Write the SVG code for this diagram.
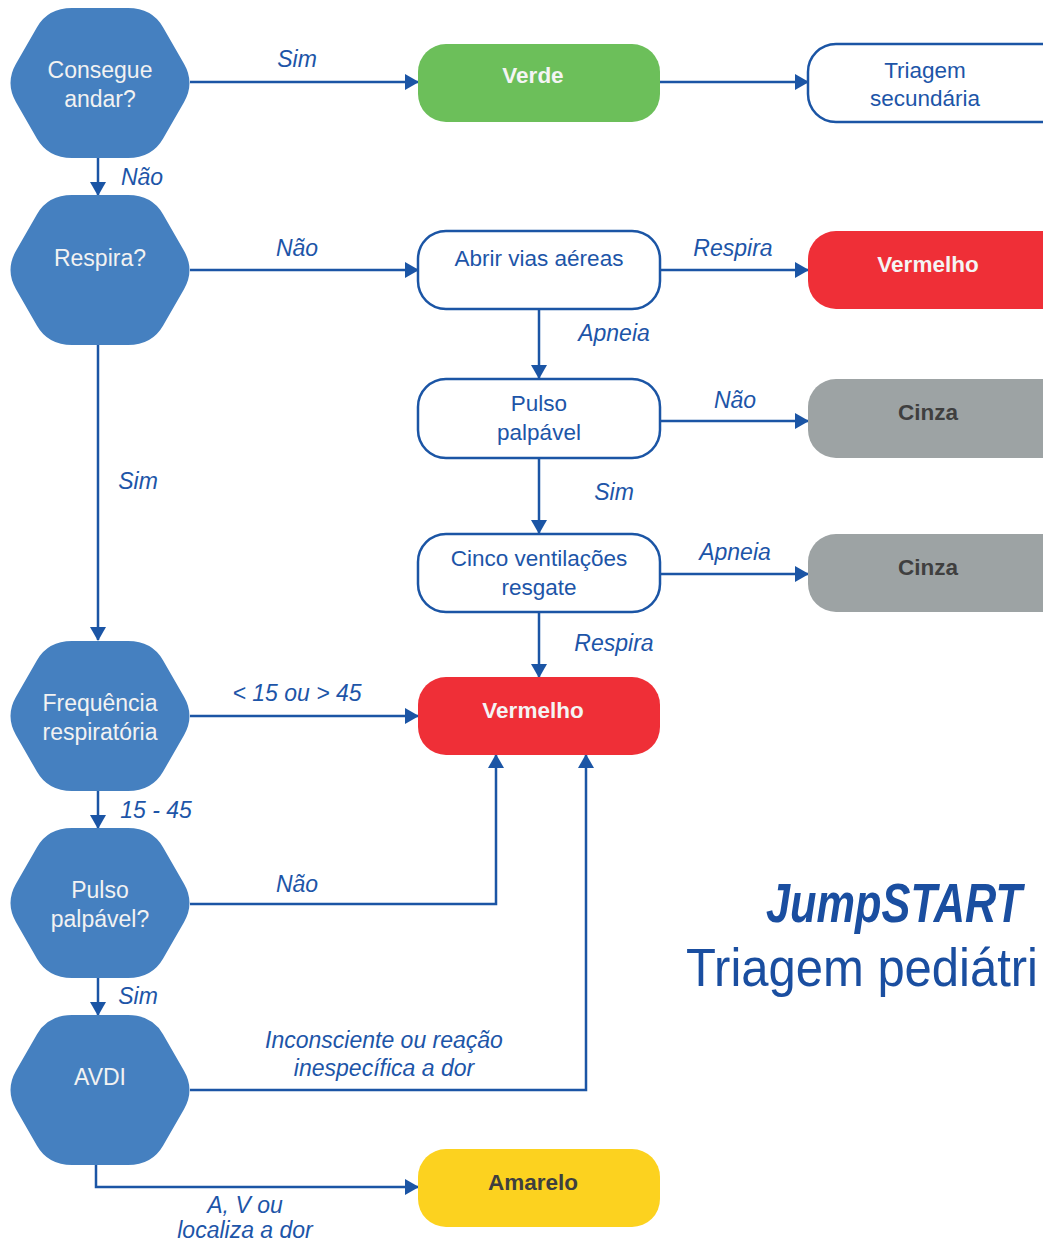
<svg xmlns="http://www.w3.org/2000/svg" width="1043" height="1242" viewBox="0 0 1043 1242">
<defs>
<style>
.hex{fill:#4580c0}
.ht{fill:#f2f2f2;font-family:"Liberation Sans",Arial,sans-serif;font-size:23px;text-anchor:middle}
.ob{fill:#fff;stroke:#1b55a5;stroke-width:2.5}
.ot{fill:#1d55a8;font-family:"Liberation Sans",Arial,sans-serif;font-size:22.5px;text-anchor:middle}
.bt{font-family:"Liberation Sans",Arial,sans-serif;font-size:22.5px;font-weight:bold;text-anchor:middle}
.w{fill:#f4f4f4}
.d{fill:#3f3f3f}
.lbl{fill:#1d55a8;font-family:"Liberation Sans",Arial,sans-serif;font-size:23px;font-style:italic;text-anchor:middle}
.ln{fill:none;stroke:#1b55a5;stroke-width:2.5}
</style>
<marker id="ah" markerUnits="userSpaceOnUse" markerWidth="14" markerHeight="16" viewBox="0 0 14 16" refX="13" refY="8" orient="auto">
<path d="M0,0 L14,8 L0,16 Z" fill="#1b55a5"/>
</marker>
<path id="hx" d="M -84,-19.2 L -63,-55.8 Q -52,-75 -28,-75 L 28,-75 Q 52,-75 63,-55.8 L 84,-19.2 Q 95,0 84,19.2 L 63,55.8 Q 52,75 28,75 L -28,75 Q -52,75 -63,55.8 L -84,19.2 Q -95,0 -84,-19.2 Z"/>
</defs>
<rect width="1043" height="1242" fill="#fff"/>

<g id="connectors">
<path class="ln" d="M190,82 H418" marker-end="url(#ah)"/>
<path class="ln" d="M660,82 H808" marker-end="url(#ah)"/>
<path class="ln" d="M98,158 V195" marker-end="url(#ah)"/>
<path class="ln" d="M190,270 H418" marker-end="url(#ah)"/>
<path class="ln" d="M660,270 H808" marker-end="url(#ah)"/>
<path class="ln" d="M539,309 V378" marker-end="url(#ah)"/>
<path class="ln" d="M660,421 H808" marker-end="url(#ah)"/>
<path class="ln" d="M539,458 V533" marker-end="url(#ah)"/>
<path class="ln" d="M660,574 H808" marker-end="url(#ah)"/>
<path class="ln" d="M539,612 V677" marker-end="url(#ah)"/>
<path class="ln" d="M98,345 V640" marker-end="url(#ah)"/>
<path class="ln" d="M190,716 H418" marker-end="url(#ah)"/>
<path class="ln" d="M98,791 V828" marker-end="url(#ah)"/>
<path class="ln" d="M190,904 H496 V755" marker-end="url(#ah)"/>
<path class="ln" d="M98,978 V1015" marker-end="url(#ah)"/>
<path class="ln" d="M190,1090 H586 V755" marker-end="url(#ah)"/>
<path class="ln" d="M96,1165 V1187 H418" marker-end="url(#ah)"/>

<text class="lbl" x="297" y="67">Sim</text>
<text class="lbl" x="142" y="185">Não</text>
<text class="lbl" x="297" y="256">Não</text>
<text class="lbl" x="733" y="256">Respira</text>
<text class="lbl" x="614" y="341">Apneia</text>
<text class="lbl" x="735" y="408">Não</text>
<text class="lbl" x="614" y="500">Sim</text>
<text class="lbl" x="735" y="560">Apneia</text>
<text class="lbl" x="614" y="651">Respira</text>
<text class="lbl" x="138" y="489">Sim</text>
<text class="lbl" x="297" y="701">&lt; 15 ou &gt; 45</text>
<text class="lbl" x="156" y="818">15 - 45</text>
<text class="lbl" x="297" y="892">Não</text>
<text class="lbl" x="138" y="1004">Sim</text>
<text class="lbl" x="384" y="1048">Inconsciente ou reação</text>
<text class="lbl" x="384" y="1076">inespecífica a dor</text>
<text class="lbl" x="245" y="1213">A, V ou</text>
<text class="lbl" x="245" y="1238">localiza a dor</text>
</g>

<g id="n-consegue">
<use href="#hx" class="hex" x="100" y="83"/>
<text class="ht" x="100" y="78">Consegue</text>
<text class="ht" x="100" y="107">andar?</text>
</g>
<g id="n-verde">
<rect x="418" y="44" width="242" height="78" rx="28" fill="#6cbf5a"/>
<text class="bt w" x="533" y="83">Verde</text>
</g>
<g id="n-triagem-sec">
<rect class="ob" x="808" y="44" width="270" height="78" rx="28"/>
<text class="ot" x="925" y="78">Triagem</text>
<text class="ot" x="925" y="106">secundária</text>
</g>
<g id="n-respira">
<use href="#hx" class="hex" x="100" y="270"/>
<text class="ht" x="100" y="266">Respira?</text>
</g>
<g id="n-abrir">
<rect class="ob" x="418" y="231" width="242" height="78" rx="28"/>
<text class="ot" x="539" y="266">Abrir vias aéreas</text>
</g>
<g id="n-vermelho1">
<rect x="808" y="231" width="270" height="78" rx="28" fill="#ef2f37"/>
<text class="bt w" x="928" y="272">Vermelho</text>
</g>
<g id="n-pulso">
<rect class="ob" x="418" y="379" width="242" height="79" rx="28"/>
<text class="ot" x="539" y="411">Pulso</text>
<text class="ot" x="539" y="440">palpável</text>
</g>
<g id="n-cinza1">
<rect x="808" y="379" width="270" height="79" rx="28" fill="#9da3a4"/>
<text class="bt d" x="928" y="420">Cinza</text>
</g>
<g id="n-cinco">
<rect class="ob" x="418" y="534" width="242" height="78" rx="28"/>
<text class="ot" x="539" y="566">Cinco ventilações</text>
<text class="ot" x="539" y="595">resgate</text>
</g>
<g id="n-cinza2">
<rect x="808" y="534" width="270" height="78" rx="28" fill="#9da3a4"/>
<text class="bt d" x="928" y="575">Cinza</text>
</g>
<g id="n-vermelho2">
<rect x="418" y="677" width="242" height="78" rx="28" fill="#ef2f37"/>
<text class="bt w" x="533" y="718">Vermelho</text>
</g>
<g id="n-frequencia">
<use href="#hx" class="hex" x="100" y="716"/>
<text class="ht" x="100" y="711">Frequência</text>
<text class="ht" x="100" y="740">respiratória</text>
</g>
<g id="n-pulso2">
<use href="#hx" class="hex" x="100" y="903"/>
<text class="ht" x="100" y="898">Pulso</text>
<text class="ht" x="100" y="927">palpável?</text>
</g>
<g id="n-avdi">
<use href="#hx" class="hex" x="100" y="1090"/>
<text class="ht" x="100" y="1085">AVDI</text>
</g>
<g id="n-amarelo">
<rect x="418" y="1149" width="242" height="78" rx="28" fill="#fcd21f"/>
<text class="bt d" x="533" y="1190">Amarelo</text>
</g>

<g id="title">
<text x="1022" y="922" text-anchor="end" textLength="256" lengthAdjust="spacingAndGlyphs" style="font-family:'Liberation Sans',Arial,sans-serif;font-size:56px;font-weight:bold;font-style:italic;fill:#1a4ea0">JumpSTART</text>
<text x="686" y="986" textLength="352" lengthAdjust="spacingAndGlyphs" style="font-family:'Liberation Sans',Arial,sans-serif;font-size:54px;fill:#1a4ea0">Triagem pediátri</text>
</g>
</svg>
